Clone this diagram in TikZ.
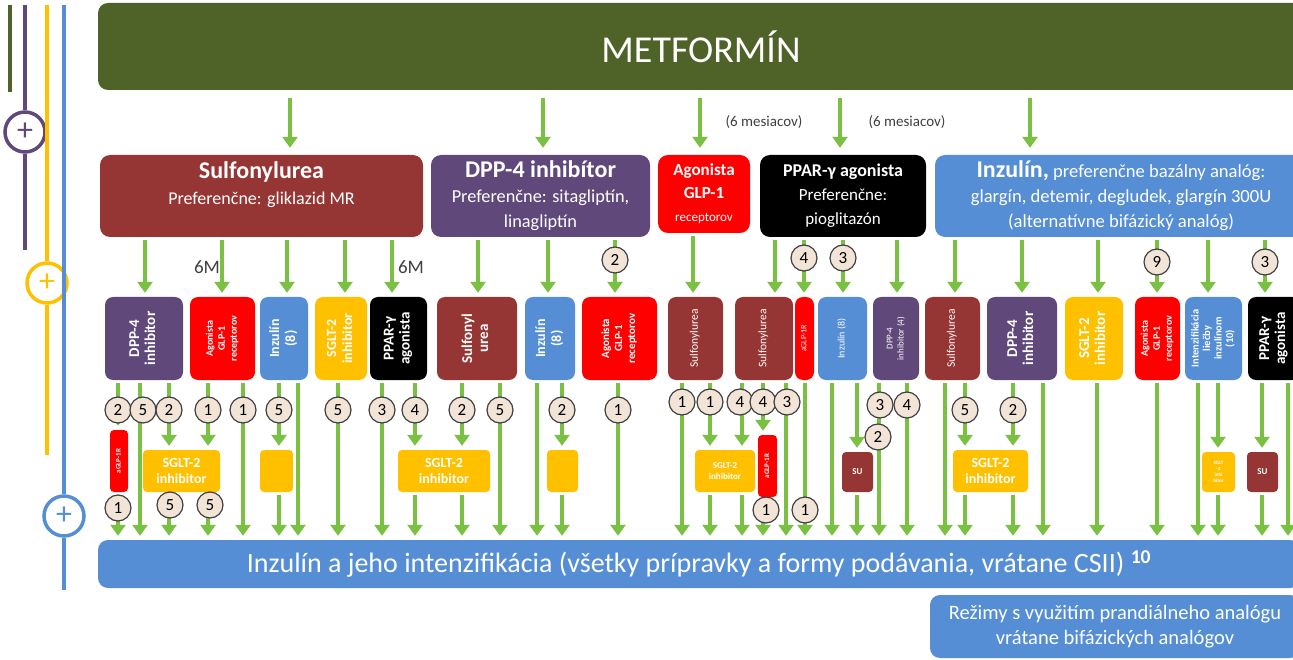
\documentclass[tikz,border=0pt]{standalone}
\usepackage{fontspec}
\setmainfont{Carlito}
\usepackage{graphicx}
\usetikzlibrary{arrows.meta}

\definecolor{cmetf}{RGB}{79,98,40}
\definecolor{cgreen}{RGB}{122,192,67}
\definecolor{cred}{RGB}{150,54,52}
\definecolor{cpurple}{RGB}{96,73,122}
\definecolor{cbright}{RGB}{255,0,0}
\definecolor{cblue}{RGB}{85,142,213}
\definecolor{cyellow}{RGB}{255,192,0}
\definecolor{cbeige}{RGB}{242,228,214}
\definecolor{cgray}{RGB}{64,64,64}

\newcommand{\vtext}[1]{\rotatebox{90}{\begin{tabular}{@{}c@{}}#1\end{tabular}}}

\tikzset{
  tone/.style={rounded corners=10pt, inner sep=1pt, align=center, text=white},
  ttwo/.style={rounded corners=8pt, inner sep=0pt, text=white, minimum height=83pt, font=\bfseries\fontsize{15}{16}\selectfont},
  tmini/.style={rounded corners=4pt, inner sep=0pt, align=center, text=white, font=\bfseries\fontsize{14}{16}\selectfont},
  arr/.style={draw=cgreen, line width=4pt, shorten <=3pt, shorten >=4pt, -{Triangle[width=15pt,length=11pt]}},
  numc/.style={circle, draw=cgray, fill=cbeige, line width=1.2pt, minimum size=26pt, inner sep=0pt, font=\fontsize{17}{17}\selectfont},
  pluscirc/.style={circle, line width=3.5pt, minimum size=40pt, inner sep=0pt, font=\fontsize{32}{32}\selectfont},
  note/.style={text=cgray, inner sep=1pt}
}

\begin{document}
\begin{tikzpicture}[x=1pt,y=-1pt]
\useasboundingbox (0,0) rectangle (1293,660);

\coordinate (gtop) at (10,5);
\coordinate (gbot) at (10,92);
\coordinate (ptop) at (25,5);
\coordinate (pbot) at (25,250);
\coordinate (ytop) at (47,5);
\coordinate (ybot) at (47,455);
\coordinate (btop) at (64,5);
\coordinate (bbot) at (64,590);
\node[pluscirc, draw=cpurple, text=cpurple] (pplus) at (25,132) {+};
\node[pluscirc, draw=cyellow, text=cyellow] (yplus) at (47,283) {+};
\node[pluscirc, draw=cblue, text=cblue] (bplus) at (64,516) {+};
\draw[line width=4pt, cmetf] (gtop) -- (gbot);
\draw[line width=4pt, cpurple] (ptop) -- (pplus) -- (pbot);
\draw[line width=4pt, cyellow] (ytop) -- (yplus) -- (ybot);
\draw[line width=4pt, cblue] (btop) -- (bplus) -- (bbot);

\node[tone, fill=cmetf, minimum width=1206pt, minimum height=87pt, font=\fontsize{38}{40}\selectfont] (metf) at (701,46.5) {METFORMÍN};

\node[tone, fill=cred, minimum width=323pt, minimum height=82pt] (sulf) at (261.5,196) {};
\node[text=white, align=center, font=\fontsize{18}{26}\selectfont] (sulft) at (261.5,185) {{\bfseries\fontsize{24}{26}\selectfont Sulfonylurea}\\Preferenčne: gliklazid MR};
\node[tone, fill=cpurple, minimum width=219pt, minimum height=82pt, font=\fontsize{18.3}{25}\selectfont] (dpp) at (540.5,196) {{\bfseries\fontsize{24}{26}\selectfont DPP-4 inhibítor}\\Preferenčne: sitagliptín,\\linagliptín};
\node[tone, fill=cbright, minimum width=92pt, minimum height=78pt, font=\bfseries\fontsize{17}{23}\selectfont] (ago) at (704,194) {Agonista\\GLP-1\\{\mdseries\fontsize{13}{15}\selectfont receptorov}};
\node[tone, fill=black, minimum width=166pt, minimum height=82pt, font=\fontsize{17}{24}\selectfont] (ppar) at (843,196) {{\bfseries\fontsize{18}{20}\selectfont PPAR-γ agonista}\\Preferenčne:\\pioglitazón};
\node[tone, fill=cblue, minimum width=372pt, minimum height=82pt, font=\fontsize{18.6}{25}\selectfont] (inz) at (1121,196) {{\bfseries\fontsize{24}{26}\selectfont Inzulín,} preferenčne bazálny analóg:\\glargín, detemir, degludek, glargín 300U\\(alternatívne bifázický analóg)};

\node[note, font=\fontsize{15}{16}\selectfont] (mes1) at (764,122) {(6 mesiacov)};
\node[note, font=\fontsize{15}{16}\selectfont] (mes2) at (907,122) {(6 mesiacov)};
\node[note, font=\fontsize{19}{20}\selectfont] (sixm1) at (207,267) {6M};
\node[note, font=\fontsize{19}{20}\selectfont] (sixm2) at (411,267) {6M};

\node[ttwo, fill=cpurple, minimum width=78pt] (b1) at (144,338.5) {\vtext{DPP-4\\inhibitor}};
\node[ttwo, fill=cbright, minimum width=65pt, font=\bfseries\fontsize{10}{12}\selectfont] (b2) at (222.5,338.5) {\vtext{Agonista\\GLP-1\\receptorov}};
\node[ttwo, fill=cblue, minimum width=48pt, font=\bfseries\fontsize{14}{16}\selectfont] (b3) at (284,338.5) {\vtext{Inzulín\\(8)}};
\node[ttwo, fill=cyellow, minimum width=52pt, font=\bfseries\fontsize{14}{16}\selectfont] (b4) at (341,338.5) {\vtext{SGLT-2\\inhibitor}};
\node[ttwo, fill=black, minimum width=57pt] (b5) at (398.5,338.5) {\vtext{PPAR-γ\\agonista}};
\node[ttwo, fill=cred, minimum width=80pt] (b6) at (477,338.5) {\vtext{Sulfonyl\\urea}};
\node[ttwo, fill=cblue, minimum width=50pt, font=\bfseries\fontsize{14}{16}\selectfont] (b7) at (550,338.5) {\vtext{Inzulín\\(8)}};
\node[ttwo, fill=cbright, minimum width=75pt, font=\bfseries\fontsize{11}{13}\selectfont] (b8) at (619.5,338.5) {\vtext{Agonista\\GLP-1\\receptorov}};
\node[ttwo, fill=cred, minimum width=55pt, font=\fontsize{11.5}{12}\selectfont] (b9) at (695.5,338.5) {\vtext{Sulfonylurea}};
\node[ttwo, fill=cred, minimum width=58pt, font=\fontsize{11.5}{12}\selectfont] (b10) at (764,338.5) {\vtext{Sulfonylurea}};
\node[ttwo, fill=cbright, minimum width=19pt, font=\fontsize{8}{9}\selectfont] (b11) at (804.5,338.5) {\vtext{aGLP-1R}};
\node[ttwo, fill=cblue, minimum width=49pt, font=\fontsize{10}{11}\selectfont] (b12) at (842.5,338.5) {\vtext{Inzulín (8)}};
\node[ttwo, fill=cpurple, minimum width=46pt, font=\fontsize{9}{11}\selectfont] (b13) at (896,338.5) {\vtext{DPP-4\\inhibitor (4)}};
\node[ttwo, fill=cred, minimum width=55pt, font=\fontsize{11.5}{12}\selectfont] (b14) at (952.5,338.5) {\vtext{Sulfonylurea}};
\node[ttwo, fill=cpurple, minimum width=70pt] (b15) at (1022,338.5) {\vtext{DPP-4\\inhibitor}};
\node[ttwo, fill=cyellow, minimum width=58pt] (b16) at (1094,338.5) {\vtext{SGLT-2\\inhibitor}};
\node[ttwo, fill=cbright, minimum width=45pt, font=\bfseries\fontsize{10}{12}\selectfont] (b17) at (1157.5,338.5) {\vtext{Agonista\\GLP-1\\receptorov}};
\node[ttwo, fill=cblue, minimum width=57pt, font=\bfseries\fontsize{10.5}{11.5}\selectfont] (b18) at (1213.5,338.5) {\vtext{Intenzifikácia\\liečby\\inzulínom\\(10)}};
\node[ttwo, fill=black, minimum width=52pt] (b19) at (1274,338.5) {\vtext{PPAR-γ\\agonista}};

\node[tmini, fill=cbright, minimum width=18pt, minimum height=62pt, font=\bfseries\fontsize{7}{8}\selectfont] (s1) at (119,461) {\vtext{aGLP-1R}};
\node[tmini, fill=cyellow, minimum width=77pt, minimum height=42pt] (s2) at (181.5,471) {SGLT-2\\inhibitor};
\node[tmini, fill=cyellow, minimum width=33pt, minimum height=42pt] (s3) at (276.5,471) {};
\node[tmini, fill=cyellow, minimum width=92pt, minimum height=42pt] (s4) at (444,471) {SGLT-2\\inhibitor};
\node[tmini, fill=cyellow, minimum width=31pt, minimum height=42pt] (s5) at (562.5,471) {};
\node[tmini, fill=cyellow, minimum width=60pt, minimum height=42pt, font=\bfseries\fontsize{9}{11}\selectfont] (s6) at (725,471) {SGLT-2\\inhibitor};
\node[tmini, fill=cbright, minimum width=19pt, minimum height=62pt, font=\bfseries\fontsize{7}{8}\selectfont] (s7) at (767.5,466) {\vtext{aGLP-1R}};
\node[tmini, fill=cred, minimum width=31pt, minimum height=40pt, font=\bfseries\fontsize{9}{10}\selectfont] (s8) at (857.5,472) {SU};
\node[tmini, fill=cyellow, minimum width=75pt, minimum height=42pt] (s9) at (990.5,471) {SGLT-2\\inhibitor};
\node[tmini, fill=cyellow, minimum width=33pt, minimum height=40pt, font=\bfseries\fontsize{5}{6}\selectfont] (s10) at (1218.5,472) {SGLT\\-2\\inhi\\bitor};
\node[tmini, fill=cred, minimum width=31pt, minimum height=40pt, font=\bfseries\fontsize{9}{10}\selectfont] (s11) at (1262.5,472) {SU};

\node[tone, fill=cblue, minimum width=1202pt, minimum height=48pt, font=\fontsize{28}{30}\selectfont] (bot) at (699,564) {Inzulín a jeho intenzifikácia (všetky prípravky a formy podávania, vrátane CSII) \textsuperscript{\bfseries 10}};
\node[tone, fill=cblue, minimum width=370pt, minimum height=63pt, font=\fontsize{20.5}{25}\selectfont] (rez) at (1115,626.5) {Režimy s využitím prandiálneho analógu\\vrátane bifázických analógov};

\foreach \x in {290,543,700,840,1030,145,222,287,345,392,478,548,615,693,775,804,843,897,955,1022,1098,1157,1208,1265,118,140,169,208,243,279,298,338,382,415,462,500,537,562,618,682,710,742,763,786,805,832,857,879,907,945,965,1013,1043,1097,1198,1218,1262,1288}
  \coordinate (L\x) at (\x,0);

\foreach \x/\t in {290/sulf,543/dpp,700/ago,840/ppar,1030/inz}
  \draw[arr, shorten <=8pt, shorten >=7pt] (metf.south -| L\x) -- (\t.north -| L\x);

\foreach \x/\a/\b in {145/sulf/b1,222/sulf/b2,287/sulf/b3,345/sulf/b4,392/sulf/b5,478/dpp/b6,548/dpp/b7,615/dpp/b8,693/ago/b9,775/ppar/b10,804/ppar/b11,843/ppar/b12,897/ppar/b13,955/inz/b14,1022/inz/b15,1098/inz/b16,1157/inz/b17,1208/inz/b18,1265/inz/b19}
  \draw[arr] (\a.south -| L\x) -- (\b.north -| L\x);

\foreach \x/\a in {140/b1,243/b2,298/b3,338/b4,382/b5,500/b6,537/b7,618/b8,682/b9,786/b10,805/b11,832/b12,879/b13,907/b13,945/b14,1043/b15,1097/b16,1157/b17,1198/b18,1288/b19}
  \draw[arr] (\a.south -| L\x) -- (bot.north -| L\x);

\foreach \x/\a/\s in {118/b1/s1,169/b1/s2,208/b2/s2,279/b3/s3,415/b5/s4,462/b6/s4,562/b7/s5,710/b9/s6,742/b10/s6,763/b10/s7,857/b12/s8,965/b14/s9,1013/b15/s9,1218/b18/s10,1262/b19/s11}{
  \draw[arr] (\a.south -| L\x) -- (\s.north -| L\x);
  \draw[arr] (\s.south -| L\x) -- (bot.north -| L\x);
}

\foreach \cx/\cy/\cn [count=\i] in {615/260/2,804/258/4,843/258/3,1157/262/9,1265/262/3,
  118/410/2,143/410/5,169/410/2,208/410/1,243/410/1,279/410/5,338/410/5,382/410/3,415/410/4,
  462/410/2,500/410/5,562/410/2,618/410/1,
  682/402/1,710/402/1,740/402/4,763/402/4,787/402/3,880/405/3,878/437/2,907/405/4,
  965/410/5,1013/410/2,
  118/508/1,170/505/5,210/505/5,766/510/1,805/510/1}
  \node[numc] (n\i) at (\cx,\cy) {\cn};
\end{tikzpicture}
\end{document}
